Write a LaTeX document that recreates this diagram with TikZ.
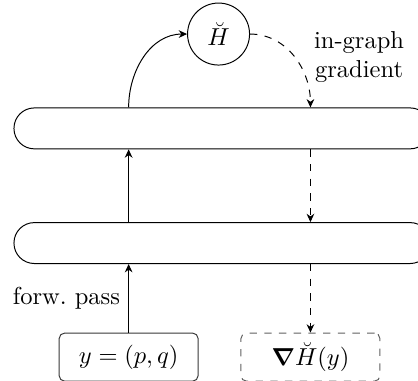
\documentclass[tikz,border=0pt]{standalone}
\usepackage{amsmath,bm}
\usetikzlibrary{arrows.meta,positioning}
\definecolor{colCadre}{RGB}{55,55,55}
\definecolor{colGrad}{RGB}{95,95,95}

\begin{document}
\begin{tikzpicture}[
    layer/.style={rectangle, rounded corners=8.3pt, draw, inner sep=0pt,
      minimum width=170pt, minimum height=16.7pt},
    ham/.style={circle, draw, minimum size=25.3pt, inner sep=0pt},
    inp/.style={rectangle, rounded corners=2.2pt, draw=colCadre,
      minimum width=56.7pt, minimum height=19.6pt, inner sep=0pt},
    outp/.style={inp, draw=colGrad, dashed},
    fl/.style={-{Stealth[length=1.2mm, width=1.1mm]}},
    fld/.style={fl, dashed}]
    \useasboundingbox (0,0) rectangle (170.6pt,-155.1pt);
    \node[layer] (l1) at (90.7pt,-52.4pt) {};
    \node[layer, below=29.7pt of l1] (l2) {};
    \node[ham, above=17.1pt of l1, xshift=-1.5pt] (H) {$\breve{H}$};
    \node[inp, below=28pt of l2, xshift=-38.2pt] (y) {$y=(p,q)$};
    \node[outp, below=28pt of l2, xshift=36pt] (g)
      {$\bm{\nabla}\breve{H}(y)$};
    % forward pass
    \draw[fl] (y)-- node[left]{forw.\ pass} (l2.south -| y);
    \draw[fl] (l2.north -| y)--(l1.south -| y);
    \draw[fl] (l1.north -| y) to[out=90, in=180] (H.west);
    % gradient
    \draw[fld] (H.east) to[out=0, in=90] node[pos=0.5, right=4.6pt,
      align=center]{in-graph\\ gradient} (l1.north -| g);
    \draw[fld] (l1.south -| g)--(l2.north -| g);
    \draw[fld] (l2.south -| g)--(g);
  \end{tikzpicture}
\end{document}
